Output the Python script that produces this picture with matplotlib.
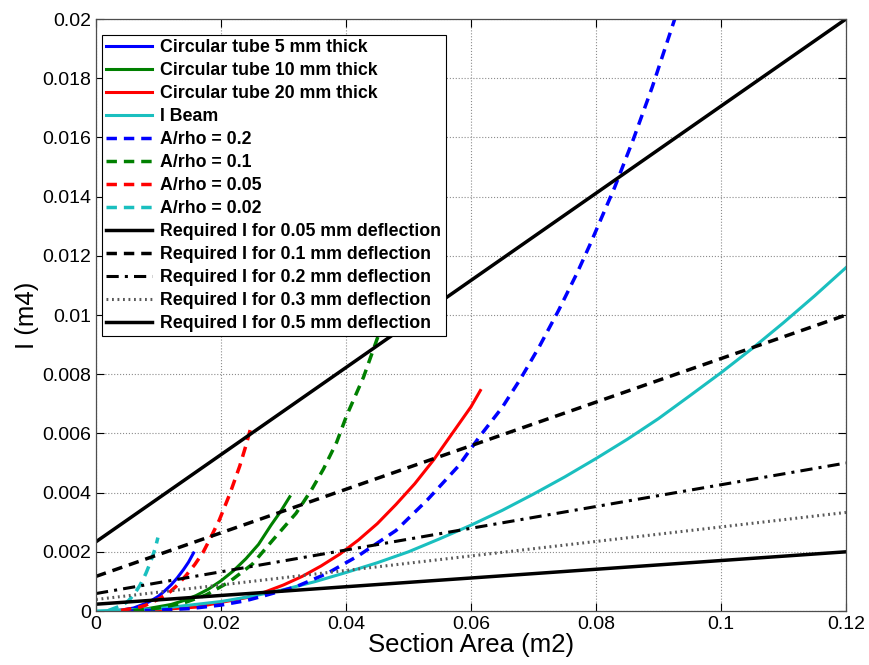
import numpy as np
import matplotlib.pyplot as plt
from matplotlib.ticker import FormatStrFormatter

plt.rcParams['font.family'] = ['Liberation Sans', 'DejaVu Sans']

# values
# circular tubes (solid)
A_T5 = [0.002, 0.004, 0.006, 0.008, 0.009, 0.010, 0.011, 0.012, 0.013, 0.014, 0.0148, 0.0156]
I_T5 = [0.0, 0.00003, 0.0001, 0.00026, 0.00037, 0.0005, 0.00068, 0.00088, 0.00112, 0.0014, 0.00165, 0.00196]
A_T10 = [0.004, 0.008, 0.012, 0.014, 0.016, 0.018, 0.020, 0.022, 0.024, 0.026, 0.028, 0.0295, 0.031]
I_T10 = [0.00001, 0.00007, 0.00022, 0.00035, 0.00052, 0.00074, 0.00102, 0.00136, 0.00177, 0.00225, 0.0029, 0.00335, 0.00386]
A_T20 = [0.008, 0.016, 0.024, 0.027, 0.030, 0.033, 0.036, 0.039, 0.042, 0.045, 0.048, 0.051, 0.054, 0.056, 0.058, 0.06, 0.0615]
I_T20 = [0.00002, 0.00013, 0.00045, 0.00064, 0.00088, 0.00117, 0.00152, 0.00192, 0.0024, 0.00295, 0.0036, 0.0043, 0.0051, 0.0057, 0.0063, 0.0069, 0.00745]
A_IB = [0.0, 0.01, 0.02, 0.025, 0.03, 0.035, 0.04, 0.045, 0.05, 0.055, 0.06, 0.065, 0.07, 0.075,
        0.08, 0.085, 0.09, 0.095, 0.10, 0.105, 0.11, 0.115, 0.12]
I_IB = [0.0, 0.00008, 0.00032, 0.0005, 0.00072, 0.00099, 0.0013, 0.00163, 0.002, 0.00244, 0.0029, 0.0034, 0.00395,
        0.00453, 0.00515, 0.0058, 0.0065, 0.00727, 0.00805, 0.00887, 0.00974, 0.01065, 0.0116]

# A/rho curves (dashed)
A_R02 = [0.005, 0.01, 0.015, 0.02, 0.024, 0.027, 0.032, 0.037, 0.042, 0.048, 0.053, 0.058, 0.0614, 0.065,
         0.068, 0.071, 0.074, 0.077, 0.079, 0.083, 0.086, 0.089, 0.0926]
I_R02 = [0.0, 0.00003, 0.00008, 0.0002, 0.00035, 0.00052, 0.00082, 0.00127, 0.00187, 0.00272, 0.00375, 0.0049,
         0.0059, 0.00688, 0.00787, 0.00896, 0.01015, 0.01143, 0.01236, 0.01432, 0.01595, 0.0177, 0.02]
A_R01 = [0.006, 0.01, 0.014, 0.0176, 0.0213, 0.025, 0.0283, 0.032, 0.0345, 0.0364, 0.0385, 0.0401, 0.0428, 0.0455]
I_R01 = [0.00002, 0.0001, 0.00027, 0.00054, 0.00098, 0.00158, 0.0024, 0.0033, 0.0041, 0.0048, 0.0057, 0.0066, 0.0079, 0.0095]
A_R005 = [0.004, 0.007, 0.008, 0.01, 0.0117, 0.013, 0.0144, 0.0158, 0.0171, 0.0182, 0.0197, 0.0214, 0.023, 0.024, 0.0249]
I_R005 = [0.00002, 0.00013, 0.0002, 0.0004, 0.00062, 0.00087, 0.0012, 0.00157, 0.00197, 0.00242, 0.00306, 0.00395,
          0.0049, 0.0056, 0.0063]
A_R002 = [0.002, 0.0043, 0.0052, 0.0058, 0.0064, 0.007, 0.0076, 0.008, 0.0085, 0.009, 0.0095, 0.0099]
I_R002 = [0.00002, 0.0002, 0.00035, 0.00049, 0.00066, 0.00086, 0.0011, 0.00128, 0.00154, 0.00182, 0.00214, 0.00248]

# required I lines (two end points each)
A_REQ = [0.0, 0.12]
I_005 = [0.00234, 0.02]
I_01 = [0.00117, 0.01]
I_02 = [0.00059, 0.005]
I_03 = [0.00039, 0.00333]
I_05 = [0.00023, 0.002]

CYAN = (0.1, 0.75, 0.75)
GREEN = (0.0, 0.5, 0.0)

fig = plt.figure(figsize=(8.69, 6.65), dpi=100)
ax = fig.add_axes([0.1105, 0.0812, 0.863, 0.8902])

ax.plot(A_T5, I_T5, color='b', lw=2.2, label='Circular tube 5 mm thick')
ax.plot(A_T10, I_T10, color=GREEN, lw=2.2, label='Circular tube 10 mm thick')
ax.plot(A_T20, I_T20, color='r', lw=2.2, label='Circular tube 20 mm thick')
ax.plot(A_IB, I_IB, color=CYAN, lw=2.2, label='I Beam')
dash = (0, (3, 2))
ax.plot(A_R02, I_R02, color='b', lw=2.5, ls=dash, label='A/rho = 0.2')
ax.plot(A_R01, I_R01, color=GREEN, lw=2.5, ls=dash, label='A/rho = 0.1')
ax.plot(A_R005, I_R005, color='r', lw=2.5, ls=dash, label='A/rho = 0.05')
ax.plot(A_R002, I_R002, color=CYAN, lw=2.5, ls=dash, label='A/rho = 0.02')
ax.plot(A_REQ, I_005, color='k', lw=2.5, label='Required I for 0.05 mm deflection')
ax.plot(A_REQ, I_01, color='k', lw=2.5, ls=dash, label='Required I for 0.1 mm deflection')
ax.plot(A_REQ, I_02, color='k', lw=2.2, ls=(0, (4, 2, 1, 2)), label='Required I for 0.2 mm deflection')
ax.plot(A_REQ, I_03, color='0.35', lw=2.2, ls=(0, (0.6, 1.2)), label='Required I for 0.3 mm deflection')
ax.plot(A_REQ, I_05, color='k', lw=2.5, label='Required I for 0.5 mm deflection')

ax.set_xlim(0, 0.12)
ax.set_ylim(0, 0.02)
ax.set_xticks(np.arange(0, 0.1201, 0.02))
ax.set_yticks(np.arange(0, 0.02001, 0.002))
ax.xaxis.set_major_formatter(FormatStrFormatter('%g'))
ax.yaxis.set_major_formatter(FormatStrFormatter('%g'))
ax.tick_params(direction='in', top=True, right=True, labelsize=14, length=6, width=0.8)
ax.grid(True, ls=':', color='0.55', lw=0.8)
for s in ax.spines.values():
    s.set_color('0.3')
    s.set_linewidth(0.9)

ax.set_xlabel('Section Area (m2)', fontsize=18.5, labelpad=0)
ax.set_ylabel('I (m4)', fontsize=18.5, labelpad=2)

leg = ax.legend(loc='upper left', bbox_to_anchor=(0.0076, 0.973), borderaxespad=0,
                prop={'weight': 'bold', 'size': 12.8}, handlelength=2.6,
                labelspacing=0.335, borderpad=0.25, handletextpad=0.45,
                fancybox=False, framealpha=1, edgecolor='k')
leg.get_frame().set_linewidth(0.8)

plt.savefig('out.png', dpi=100)
